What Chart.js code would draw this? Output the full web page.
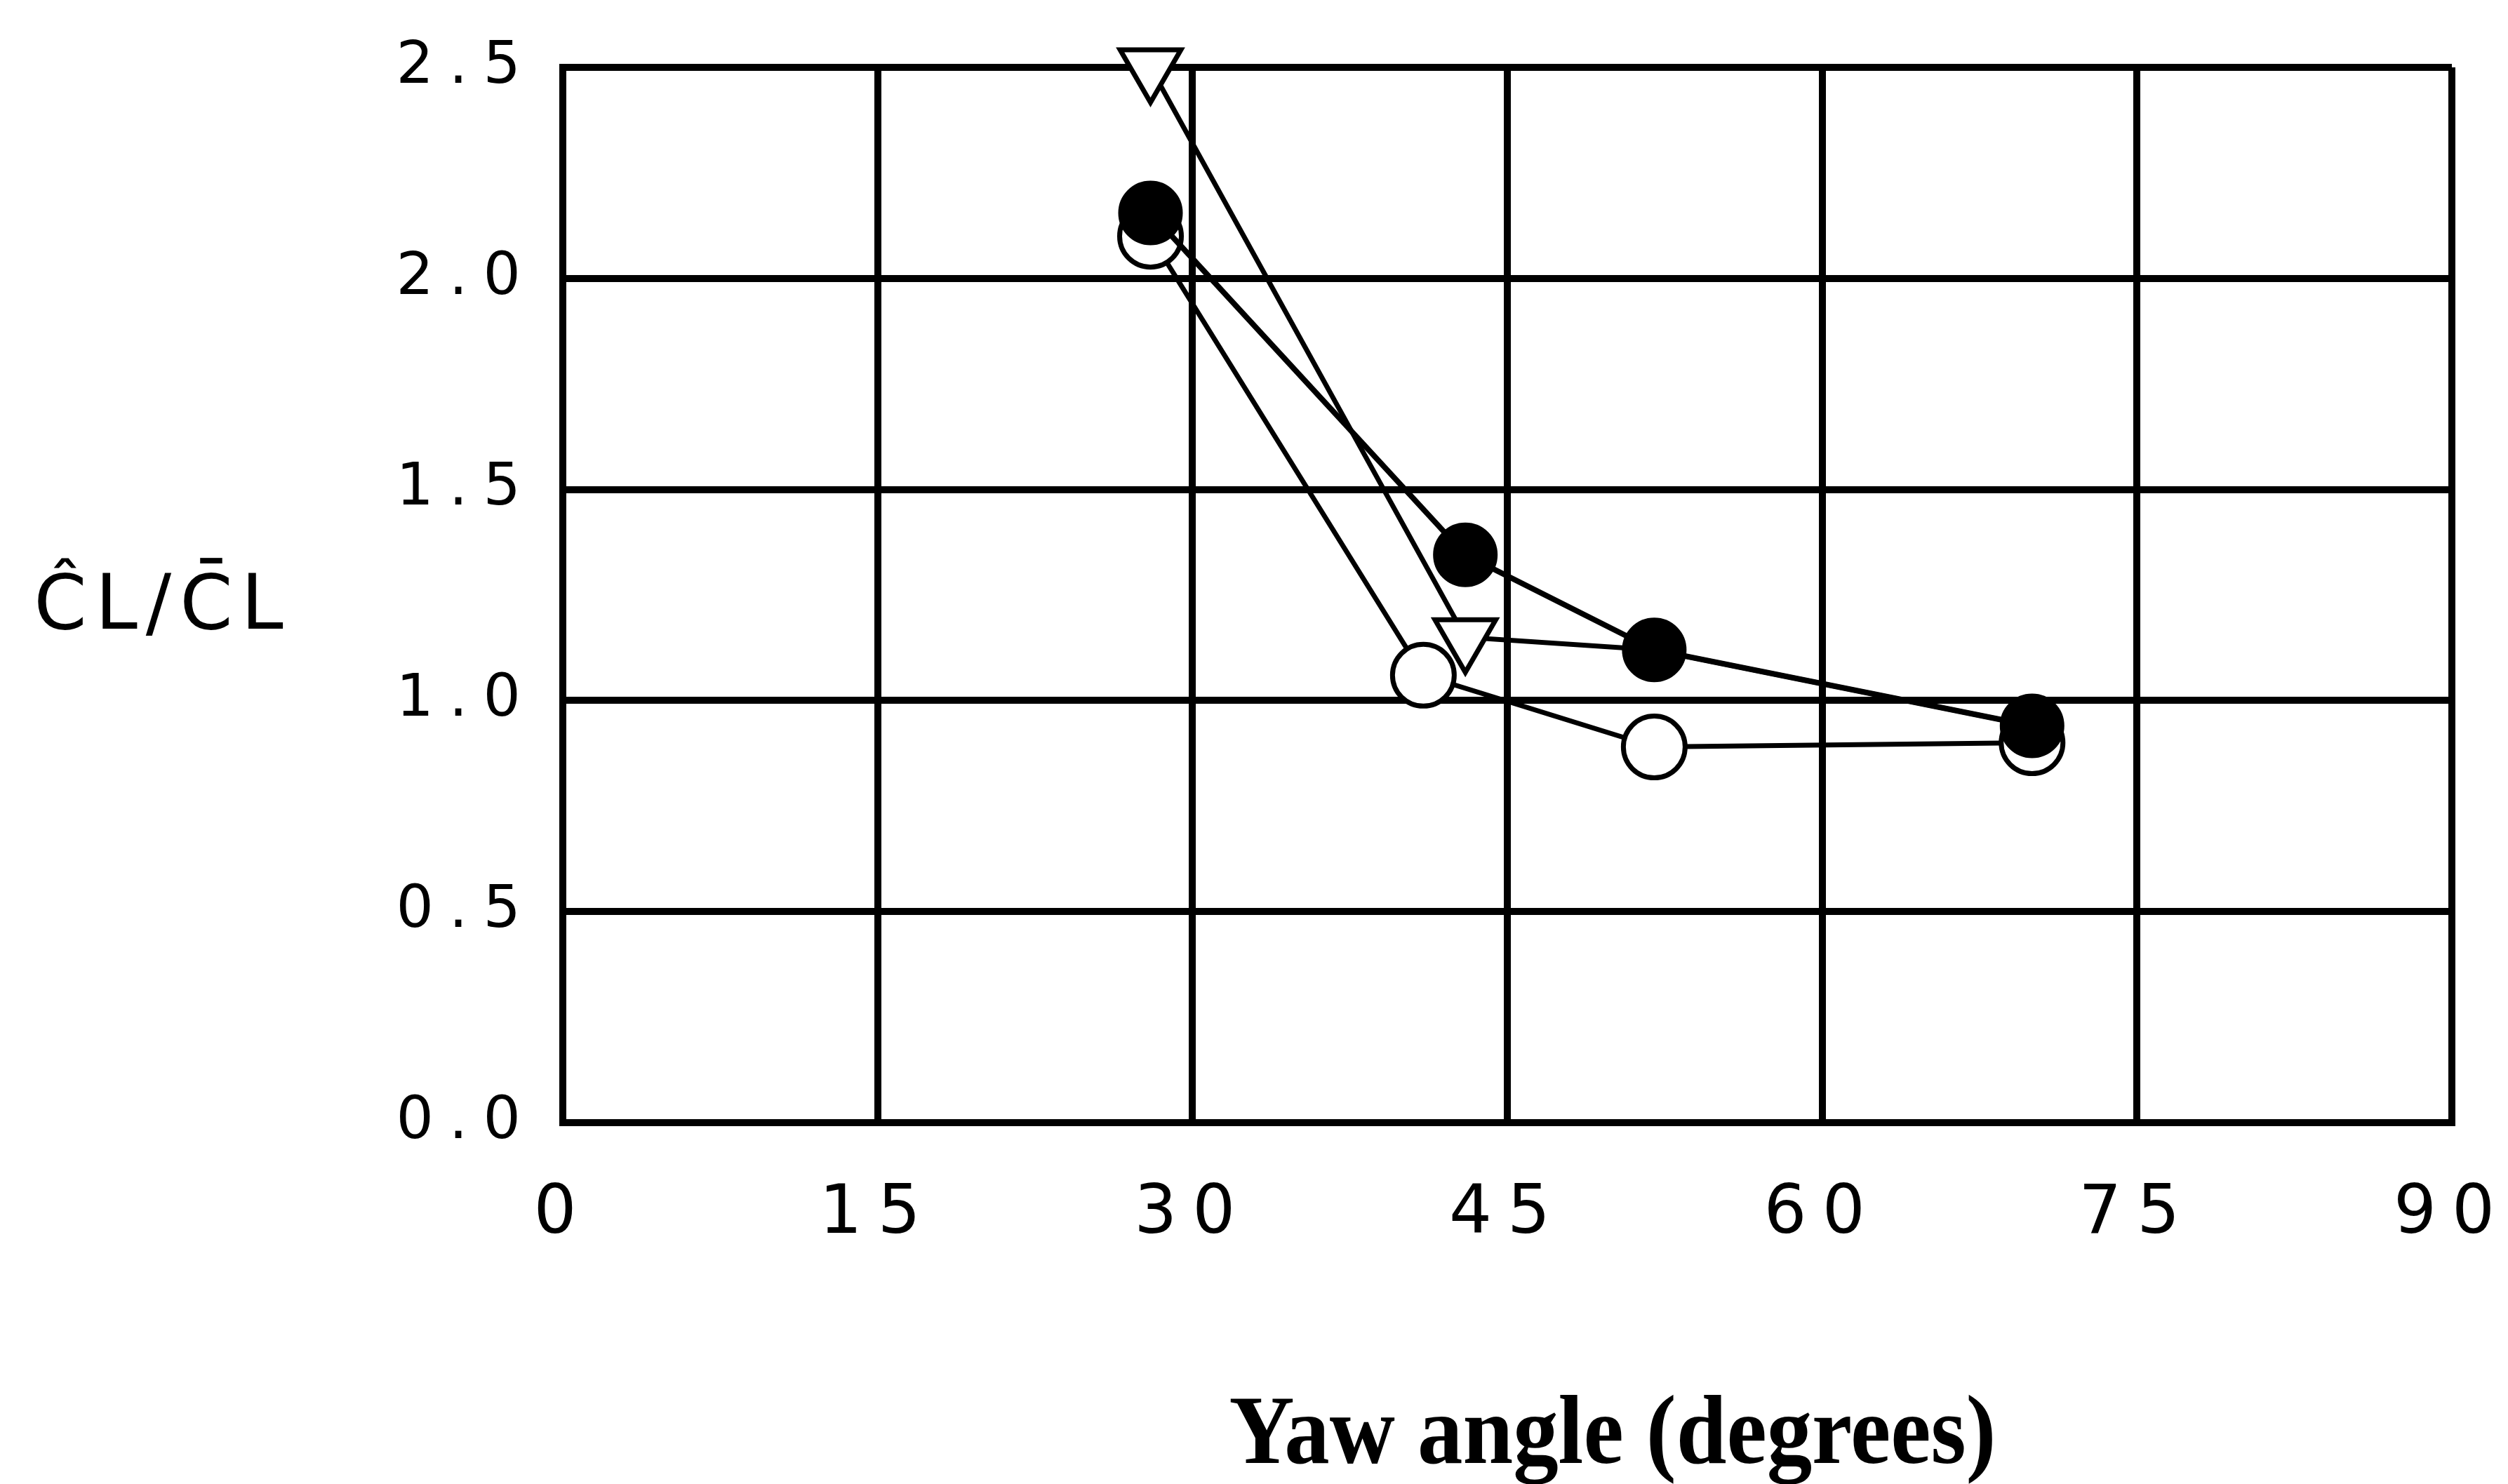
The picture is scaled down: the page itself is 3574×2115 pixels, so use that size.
<!DOCTYPE html>
<html>
<head>
<meta charset="utf-8">
<script src="https://cdn.jsdelivr.net/npm/chart.js@4.4.1/dist/chart.umd.min.js"></script>
<style>
    html, body { margin: 0; padding: 0; background: #fff; }
    canvas { display: block; }
</style>
</head>
<body>
<canvas id="yawChart" width="3574" height="2115"></canvas>
<script>
// tick values
const xTicks = [0, 15, 30, 45, 60, 75, 90];
const yTicks = [0, 0.5, 1.0, 1.5, 2.0, 2.5];

// filled circles
const filledAngle = [28, 43, 52, 70];
const filledRatio = [2.155, 1.345, 1.12, 0.94];

// open circles
const openAngle = [28, 41, 52, 70];
const openRatio = [2.10, 1.06, 0.89, 0.90];

// open triangles (last two sit under the filled circles)
const triAngle = [28, 43, 52, 70];
const triRatio = [2.5, 1.15, 1.12, 0.94];

const xTitle = 'Yaw angle (degrees)';
const yTitle = 'ĈL/C\u0304L';

const toPoints = (xs, ys) => xs.map((x, i) => ({ x: x, y: ys[i] }));

// letter spacing for the tick labels + titles drawn by hand
const labelPlugin = {
    id: 'labelPlugin',
    beforeLayout(chart) { chart.ctx.letterSpacing = '22px'; },
    beforeDraw(chart) { chart.ctx.letterSpacing = '22px'; },
    afterDraw(chart) {
        const ctx = chart.ctx;
        const area = chart.chartArea;
        ctx.save();
        ctx.fillStyle = '#000';

        // y title, horizontal, left of the axis
        ctx.letterSpacing = '12px';
        ctx.font = '108px "DejaVu Sans"';
        ctx.textAlign = 'center';
        ctx.textBaseline = 'middle';
        ctx.fillText(yTitle, area.left - 570, area.top + 772);

        // x title, serif bold, squeezed a bit
        ctx.letterSpacing = '0px';
        ctx.font = 'bold 140px "Liberation Serif"';
        ctx.textBaseline = 'alphabetic';
        ctx.fillText(xTitle, area.left + 1496, area.bottom + 485, 1093);
        ctx.restore();
        ctx.letterSpacing = '22px';
    }
};

const gridStyle = { color: '#000', lineWidth: 10, drawTicks: false };
const borderStyle = { color: '#000', width: 10 };

new Chart(document.getElementById('yawChart'), {
    type: 'scatter',
    data: {
        datasets: [
            {
                label: 'filled',
                data: toPoints(filledAngle, filledRatio),
                showLine: true,
                borderColor: '#000',
                borderWidth: 8,
                pointStyle: 'circle',
                pointRadius: 45,
                pointBackgroundColor: '#000',
                pointBorderColor: '#000',
                pointBorderWidth: 2,
                clip: false
            },
            {
                label: 'open',
                data: toPoints(openAngle, openRatio),
                showLine: true,
                borderColor: '#000',
                borderWidth: 7,
                pointStyle: 'circle',
                pointRadius: 44,
                pointBackgroundColor: '#fff',
                pointBorderColor: '#000',
                pointBorderWidth: 7,
                clip: false
            },
            {
                label: 'triangle',
                data: toPoints(triAngle, triRatio),
                showLine: true,
                borderColor: '#000',
                borderWidth: 7,
                pointStyle: 'triangle',
                pointRotation: 180,
                pointRadius: [50, 50, 0, 0],
                pointBackgroundColor: '#fff',
                pointBorderColor: '#000',
                pointBorderWidth: 7,
                clip: false
            }
        ]
    },
    options: {
        responsive: false,
        devicePixelRatio: 1,
        animation: false,
        layout: { padding: { top: 96, right: 80, left: 0, bottom: 0 } },
        plugins: {
            legend: { display: false },
            tooltip: { enabled: false }
        },
        scales: {
            x: {
                type: 'linear',
                min: 0,
                max: 90,
                afterBuildTicks(scale) { scale.ticks = xTicks.map(v => ({ value: v })); },
                ticks: {
                    color: '#000',
                    font: { family: 'DejaVu Sans', size: 96 },
                    padding: 74,
                    maxRotation: 0,
                    autoSkip: false
                },
                grid: gridStyle,
                border: borderStyle,
                afterFit(scale) {
                    scale.height = 515;
                    scale.paddingLeft = 0;
                    scale.paddingRight = 0;
                }
            },
            y: {
                type: 'linear',
                min: 0,
                max: 2.5,
                afterBuildTicks(scale) { scale.ticks = yTicks.map(v => ({ value: v })); },
                ticks: {
                    color: '#000',
                    font: { family: 'DejaVu Sans', size: 84 },
                    padding: 38,
                    callback: v => v.toFixed(1)
                },
                grid: gridStyle,
                border: borderStyle,
                afterFit(scale) {
                    scale.width = 802;
                    scale.paddingTop = 0;
                    scale.paddingBottom = 0;
                }
            }
        }
    },
    plugins: [labelPlugin]
});
</script>
</body>
</html>
